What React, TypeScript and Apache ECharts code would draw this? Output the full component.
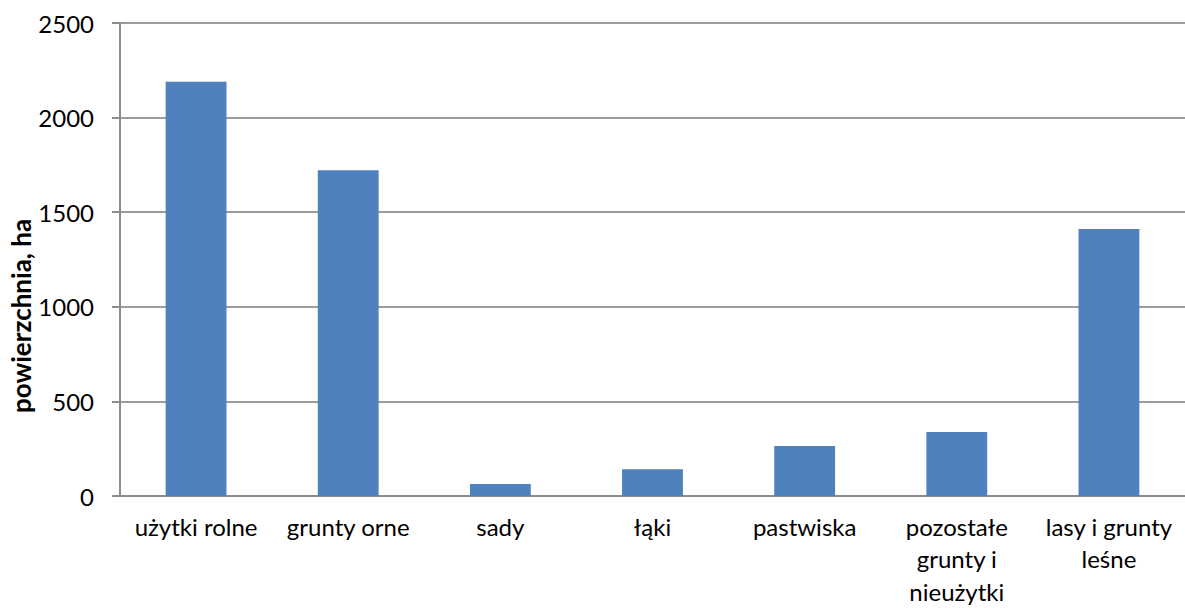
import React, { useEffect, useRef } from "react";
import * as echarts from "echarts";

const categories = [
  "użytki rolne",
  "grunty orne",
  "sady",
  "łąki",
  "pastwiska",
  "pozostałe\ngrunty i\nnieużytki",
  "lasy i grunty\nleśne",
];
const values = [2190, 1722, 63, 142, 264, 338, 1411];
const yTicks = { min: 0, max: 2500, interval: 500 };
const yName = "powierzchnia, ha";

export default function App() {
  const ref = useRef<HTMLDivElement>(null);
  useEffect(() => {
    const chart = echarts.init(ref.current!, null, { renderer: "svg" });
    const font = "Lato, 'Open Sans', sans-serif";
    chart.setOption({
      animation: false,
      grid: {
        left: 120,
        top: 23,
        right: 0,
        bottom: 112,
        containLabel: false,
        outerBoundsMode: "none",
      },
      graphic: [
        {
          type: "text",
          x: 21,
          y: 316,
          rotation: Math.PI / 2,
          style: {
            text: yName,
            fill: "#000",
            font: `bold 26px ${font}`,
            textAlign: "center",
            textVerticalAlign: "middle",
          },
        },
      ],
      xAxis: {
        type: "category",
        data: categories,
        axisLine: { show: true, lineStyle: { color: "#8c8c8c", width: 2 } },
        axisTick: { show: false },
        axisLabel: {
          color: "#000",
          fontSize: 24,
          fontFamily: font,
          margin: 14,
          lineHeight: 32.5,
          interval: 0,
        },
      },
      yAxis: {
        type: "value",
        min: yTicks.min,
        max: yTicks.max,
        interval: yTicks.interval,
        axisLine: { show: true, lineStyle: { color: "#8c8c8c", width: 2 } },
        axisTick: { show: true, length: 8, lineStyle: { color: "#8c8c8c", width: 2 } },
        axisLabel: {
          color: "#000",
          fontSize: 24,
          fontFamily: font,
          margin: 26,
          formatter: (v: number) => String(v),
        },
        splitLine: { show: true, lineStyle: { color: "#9c9c9c", width: 2 } },
      },
      series: [
        {
          type: "bar",
          data: values,
          barWidth: "40%",
          itemStyle: { color: "#4F81BD" },
        },
      ],
    });
    return () => chart.dispose();
  }, []);
  return (
    <div
      ref={ref}
      style={{ position: "fixed", left: 0, top: 0, width: 1185, height: 608, background: "#fff" }}
    />
  );
}
